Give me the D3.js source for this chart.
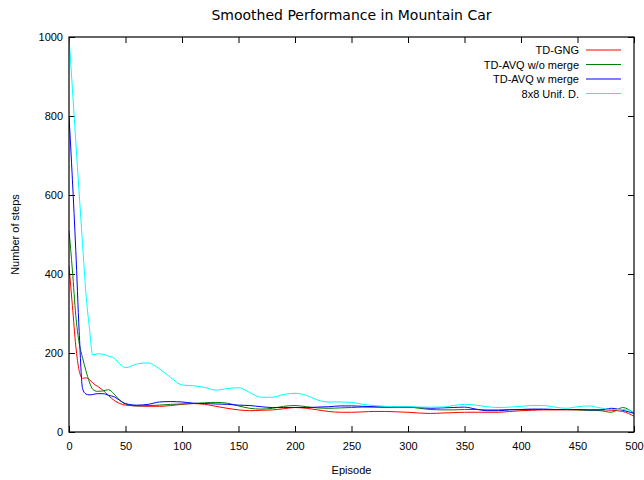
<!DOCTYPE html>
<html>
<head>
<meta charset="utf-8">
<script src="https://cdn.jsdelivr.net/npm/d3@7"></script>
<style>
  html, body { margin: 0; padding: 0; background: #fff; }
  svg { display: block; }
  .tick text { font-family: "Liberation Sans", Arial, sans-serif; font-size: 11px; fill: #000; }
</style>
</head>
<body>
<svg id="chart" width="644" height="480"></svg>
<script>
// Episode sample points (denser at the start, where the curves drop steeply)
const episodes = [0, 3, 6, 9, 12, 15, 18, 21, 25, 30, 35, 40, 45, 50,
  60, 70, 80, 90, 100, 110, 120, 130, 140, 150, 160, 170, 180, 190, 200,
  210, 220, 230, 240, 250, 260, 270, 280, 290, 300, 310, 320, 330, 340, 350,
  360, 370, 380, 390, 400, 410, 420, 430, 440, 450, 460, 470, 480, 490, 500];

// Smoothed number of steps per episode for each method
const tdGng = [420, 320, 218, 155, 136, 137, 133, 124, 116, 106, 92, 80, 72, 68,
  66, 65, 65, 67, 70, 72, 70, 65, 60, 56, 54, 55, 56, 59, 62,
  60, 56, 52, 50, 50, 51, 52, 52, 51, 50, 48, 47, 48, 49, 50,
  50, 50, 50, 52, 54, 55, 56, 56, 56, 56, 56, 56, 55, 52, 40];

const tdAvqNoMerge = [510, 410, 295, 225, 188, 155, 127, 108, 103, 104, 107, 96, 80, 71,
  66, 67, 68, 70, 71, 72, 74, 75, 73, 66, 60, 58, 60, 65, 67,
  64, 61, 60, 61, 62, 63, 63, 63, 63, 63, 60, 57, 56, 56, 57,
  57, 56, 56, 57, 57, 57, 57, 57, 57, 56, 55, 54, 50, 62, 47];

const tdAvqMerge = [800, 640, 460, 255, 110, 96, 94, 95, 97, 97, 93, 89, 80, 72,
  68, 70, 76, 77, 76, 73, 72, 71, 70, 68, 67, 64, 62, 62, 62,
  62, 63, 64, 66, 66, 65, 64, 63, 63, 63, 62, 60, 61, 62, 63,
  58, 54, 54, 56, 57, 58, 58, 57, 57, 57, 56, 56, 60, 55, 47];

const unif8x8 = [1000, 870, 735, 605, 475, 350, 265, 195, 198, 197, 192, 187, 172, 163,
  172, 175, 160, 138, 119, 117, 113, 106, 110, 112, 100, 88, 88, 95, 98,
  93, 81, 76, 76, 75, 70, 67, 65, 64, 64, 63, 63, 63, 67, 70,
  68, 64, 62, 63, 65, 67, 67, 63, 60, 64, 66, 61, 57, 57, 51];

const seriesNames = ["TD-GNG", "TD-AVQ w/o merge", "TD-AVQ w merge", "8x8 Unif. D."];
const seriesColors = ["#ff0000", "#008000", "#0000ff", "#00ffff"];
const seriesValues = [tdGng, tdAvqNoMerge, tdAvqMerge, unif8x8];

const xTicks = d3.range(0, 501, 50);
const yTicks = d3.range(0, 1001, 200);

const svg = d3.select("#chart");
const margin = { left: 69, right: 10, top: 37, bottom: 48 };
const width = 644, height = 480;
const x0 = margin.left, x1 = width - margin.right;
const y0 = height - margin.bottom, y1 = margin.top;

const x = d3.scaleLinear().domain([0, 500]).range([x0, x1]);
const y = d3.scaleLinear().domain([0, 1000]).range([y0, y1]);

// Clip curves to the plot frame
svg.append("defs").append("clipPath").attr("id", "plotclip")
  .append("rect").attr("x", x0).attr("y", y1).attr("width", x1 - x0).attr("height", y0 - y1);

const tickLen = 6;

// Axes: labels on bottom/left, mirrored inward ticks on top/right
const gx = svg.append("g").attr("transform", `translate(0,${y0})`)
  .call(d3.axisBottom(x).tickValues(xTicks).tickSize(-tickLen).tickPadding(10).tickFormat(d3.format("d")));
const gy = svg.append("g").attr("transform", `translate(${x0},0)`)
  .call(d3.axisLeft(y).tickValues(yTicks).tickSize(-tickLen).tickPadding(6).tickFormat(d3.format("d")));
const gxt = svg.append("g").attr("transform", `translate(0,${y1})`)
  .call(d3.axisTop(x).tickValues(xTicks).tickSize(-tickLen).tickFormat(""));
const gyr = svg.append("g").attr("transform", `translate(${x1},0)`)
  .call(d3.axisRight(y).tickValues(yTicks).tickSize(-tickLen).tickFormat(""));
[gx, gy, gxt, gyr].forEach(g => {
  g.select(".domain").remove();
  g.selectAll(".tick line").attr("stroke", "#000");
});

// Curves
const line = d3.line()
  .x((d, i) => x(episodes[i]))
  .y(d => y(d))
  .curve(d3.curveMonotoneX);

const plot = svg.append("g").attr("clip-path", "url(#plotclip)");
seriesValues.forEach((vals, k) => {
  plot.append("path")
    .datum(vals)
    .attr("fill", "none")
    .attr("stroke", seriesColors[k])
    .attr("stroke-width", 1)
    .attr("d", line);
});

// Plot frame
svg.append("rect")
  .attr("x", x0).attr("y", y1)
  .attr("width", x1 - x0).attr("height", y0 - y1)
  .attr("fill", "none").attr("stroke", "#000").attr("stroke-width", 1.2);

// Legend (top right, text right-aligned before the sample line)
const legend = svg.append("g");
seriesNames.forEach((name, k) => {
  const ly = 50 + k * 14.5;
  legend.append("text")
    .attr("x", 579).attr("y", ly + 4)
    .attr("text-anchor", "end")
    .attr("font-family", "Liberation Sans, Arial, sans-serif")
    .attr("font-size", 11)
    .text(name);
  legend.append("line")
    .attr("x1", 586).attr("x2", 621)
    .attr("y1", ly).attr("y2", ly)
    .attr("stroke", seriesColors[k]).attr("stroke-width", 1);
});

// Title and axis labels
svg.append("text")
  .attr("x", (x0 + x1) / 2).attr("y", 20)
  .attr("text-anchor", "middle")
  .attr("font-family", "DejaVu Sans, sans-serif")
  .attr("font-size", 14)
  .text("Smoothed Performance in Mountain Car");

svg.append("text")
  .attr("x", (x0 + x1) / 2).attr("y", 474)
  .attr("text-anchor", "middle")
  .attr("font-family", "Liberation Sans, Arial, sans-serif")
  .attr("font-size", 11)
  .text("Episode");

svg.append("text")
  .attr("transform", `translate(19,${(y0 + y1) / 2}) rotate(-90)`)
  .attr("text-anchor", "middle")
  .attr("font-family", "Liberation Sans, Arial, sans-serif")
  .attr("font-size", 11)
  .text("Number of steps");
</script>
</body>
</html>
